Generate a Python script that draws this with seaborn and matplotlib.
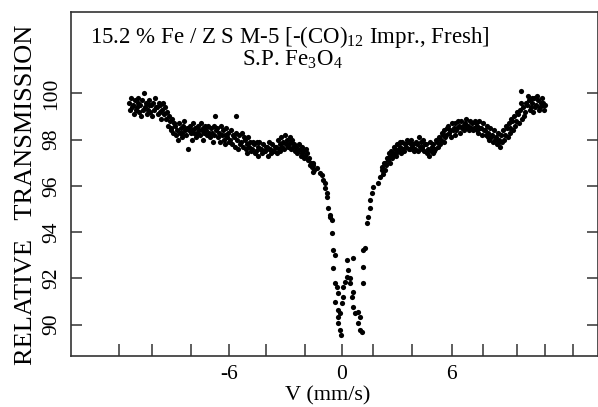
import matplotlib
matplotlib.use("Agg")
import matplotlib.pyplot as plt
import pandas as pd
import seaborn as sns

# Mossbauer spectrum: velocity (mm/s) vs relative transmission (%)
vel_left = [
    -11.60, -11.55, -11.50, -11.45, -11.40, -11.35, -11.30, -11.25, -11.20, -11.15,
    -11.10, -11.05, -11.00, -10.95, -10.90, -10.85, -10.80, -10.75, -10.70, -10.65,
    -10.60, -10.55, -10.50, -10.45, -10.40, -10.35, -10.30, -10.25, -10.20, -10.15,
    -10.10, -10.05, -10.00, -9.95, -9.90, -9.85, -9.80, -9.75, -9.70, -9.65,
    -9.60, -9.55, -9.50, -9.45, -9.40, -9.35, -9.30, -9.25, -9.20, -9.15,
    -9.10, -9.05, -9.00, -8.95, -8.90, -8.85, -8.80, -8.75, -8.70, -8.65,
    -8.60, -8.55, -8.50, -8.45, -8.40, -8.35, -8.30, -8.25, -8.20, -8.15,
    -8.10, -8.05, -8.00, -7.95, -7.90, -7.85, -7.80, -7.75, -7.70, -7.65,
    -7.60, -7.55, -7.50, -7.45, -7.40, -7.35, -7.30, -7.25, -7.20, -7.15,
    -7.10, -7.05, -7.00, -6.95, -6.90, -6.85, -6.80, -6.75, -6.70, -6.65,
    -6.60, -6.55, -6.50, -6.45, -6.40, -6.35, -6.30, -6.25, -6.20, -6.15,
    -6.10, -6.05, -6.00, -5.95, -5.90, -5.85, -5.80, -5.75, -5.70, -5.65,
    -5.60, -5.55, -5.50, -5.45, -5.40, -5.35, -5.30, -5.25, -5.20, -5.15,
    -5.10, -5.05, -5.00, -4.95, -4.90, -4.85, -4.80, -4.75, -4.70, -4.65,
    -4.60, -4.55, -4.50, -4.45, -4.40, -4.35, -4.30, -4.25, -4.20, -4.15,
    -4.10, -4.05, -4.00, -3.95, -3.90, -3.85, -3.80, -3.75, -3.70, -3.65,
    -3.60, -3.55, -3.50, -3.45, -3.40, -3.35, -3.30, -3.25, -3.20, -3.15,
    -3.10, -3.05, -3.00, -2.95, -2.90, -2.85, -2.80, -2.75, -2.70, -2.65,
    -2.60, -2.55, -2.50, -2.45, -2.40, -2.35, -2.30, -2.25, -2.20, -2.15,
    -2.10, -2.05, -2.00, -1.95, -1.90, -1.85, -1.80, -1.75, -1.70, -1.65,
    -1.60, -1.55, -1.50,
]
trans_left = [
    99.6, 99.3, 99.8, 99.4, 99.5, 99.1, 99.7, 99.3, 99.4, 99.6,
    99.8, 99.2, 99.5, 99.0, 99.7, 99.3, 100.0, 99.4, 99.6, 99.1,
    99.3, 99.5, 99.7, 99.2, 99.5, 99.0, 99.6, 99.3, 99.8, 99.4,
    99.4, 99.1, 99.6, 99.2, 99.5, 98.9, 99.3, 99.6, 99.1, 99.4,
    98.9, 99.2, 98.6, 99.0, 98.8, 98.4, 98.5, 98.9, 98.3, 98.7,
    98.6, 98.2, 98.4, 98.0, 98.7, 98.3, 98.5, 98.1, 98.3, 98.6,
    98.8, 98.4, 98.2, 98.5, 97.6, 98.4, 98.6, 98.3, 98.4, 98.0,
    98.7, 98.3, 98.5, 98.1, 98.3, 98.6, 98.4, 98.2, 98.7, 98.4,
    98.5, 98.0, 98.3, 98.6, 98.4, 98.2, 98.6, 98.3, 98.1, 98.5,
    98.3, 97.9, 98.6, 98.2, 99.0, 98.4, 98.5, 98.1, 98.3, 97.9,
    98.6, 98.2, 98.4, 98.0, 98.2, 97.8, 98.5, 98.1, 98.3, 97.9,
    98.0, 98.4, 97.8, 98.2, 98.1, 97.7, 99.0, 98.3, 98.0, 97.6,
    98.2, 97.8, 97.9, 98.3, 97.7, 98.1, 98.0, 97.6, 97.8, 97.4,
    98.1, 97.7, 97.9, 97.5, 97.6, 97.9, 97.8, 97.4, 97.5, 97.9,
    97.7, 97.3, 97.9, 97.6, 97.6, 97.4, 97.8, 97.5, 97.5, 97.7,
    97.7, 97.3, 97.9, 97.6, 97.6, 97.4, 97.8, 97.5, 97.5, 97.7,
    97.7, 97.4, 98.0, 97.6, 97.8, 97.5, 98.1, 97.7, 97.9, 97.6,
    98.2, 97.8, 98.0, 97.7, 97.8, 98.1, 97.6, 97.9, 98.0, 97.7,
    97.8, 97.5, 97.7, 97.4, 97.5, 97.8, 97.6, 97.3, 97.4, 97.7,
    97.5, 97.2, 97.3, 97.6, 97.4, 97.1, 97.2, 96.9, 97.0, 96.8,
    96.9, 96.6, 96.7,
]

# the two absorption lines near 0 and +1 mm/s
vel_dip = [
    -1.58, -1.36, -1.20, -1.09, -1.04, -0.93, -0.93, -0.82, -0.82, -0.76,
    -0.65, -0.65, -0.55, -0.55, -0.49, -0.38, -0.49, -0.38, -0.27, -0.22,
    -0.38, -0.22, -0.11, -0.22, -0.22, -0.11, -0.05,
    0.27, 0.60, 0.33, 0.27, 0.44, 0.16, 0.05, 0.44, 0.60, 0.55,
    0.05, 0.00, 0.60, 0.71, 0.87, 0.98, 0.87, 0.98, 1.09,
    1.15, 1.15, 1.25, 1.15, 1.36, 1.42, 1.53, 1.53, 1.64, 1.69,
    1.96, 2.07, 2.18, 2.35, 2.51, 2.78, 3.00,
]
trans_dip = [
    96.97, 96.77, 96.56, 96.47, 96.25, 96.13, 95.91, 95.69, 95.52, 95.04,
    94.74, 94.65, 94.52, 93.96, 93.23, 93.01, 92.45, 91.80, 91.62, 91.37,
    90.98, 90.63, 90.50, 90.33, 90.07, 89.76, 89.55,
    92.79, 92.88, 92.36, 92.06, 92.01, 91.84, 91.62, 91.80, 91.41, 91.19,
    91.19, 90.93, 90.76, 90.50, 90.54, 90.33, 90.07, 89.76, 89.68,
    91.80, 92.49, 93.31, 93.23, 94.39, 94.65, 95.04, 95.39, 95.69, 95.95,
    96.13, 96.38, 96.69, 96.99, 97.21, 97.34, 97.47,
]

vel_right = [
    2.20, 2.25, 2.30, 2.35, 2.40, 2.45, 2.50, 2.55, 2.60, 2.65,
    2.70, 2.75, 2.80, 2.85, 2.90, 2.95, 3.00, 3.05, 3.10, 3.15,
    3.20, 3.25, 3.30, 3.35, 3.40, 3.45, 3.50, 3.55, 3.60, 3.65,
    3.70, 3.75, 3.80, 3.85, 3.90, 3.95, 4.00, 4.05, 4.10, 4.15,
    4.20, 4.25, 4.30, 4.35, 4.40, 4.45, 4.50, 4.55, 4.60, 4.65,
    4.70, 4.75, 4.80, 4.85, 4.90, 4.95, 5.00, 5.05, 5.10, 5.15,
    5.20, 5.25, 5.30, 5.35, 5.40, 5.45, 5.50, 5.55, 5.60, 5.65,
    5.70, 5.75, 5.80, 5.85, 5.90, 5.95, 6.00, 6.05, 6.10, 6.15,
    6.20, 6.25, 6.30, 6.35, 6.40, 6.45, 6.50, 6.55, 6.60, 6.65,
    6.70, 6.75, 6.80, 6.85, 6.90, 6.95, 7.00, 7.05, 7.10, 7.15,
    7.20, 7.25, 7.30, 7.35, 7.40, 7.45, 7.50, 7.55, 7.60, 7.65,
    7.70, 7.75, 7.80, 7.85, 7.90, 7.95, 8.00, 8.05, 8.10, 8.15,
    8.20, 8.25, 8.30, 8.35, 8.40, 8.45, 8.50, 8.55, 8.60, 8.65,
    8.70, 8.75, 8.80, 8.85, 8.90, 8.95, 9.00, 9.05, 9.10, 9.15,
    9.20, 9.25, 9.30, 9.35, 9.40, 9.45, 9.50, 9.55, 9.60, 9.65,
    9.70, 9.75, 9.80, 9.85, 9.90, 9.95, 10.00, 10.05, 10.10, 10.15,
    10.20, 10.25, 10.30, 10.35, 10.40, 10.45, 10.50, 10.55, 10.60, 10.65,
    10.70, 10.75, 10.80, 10.85, 10.90, 10.95, 11.00, 11.05, 11.10,
]
trans_right = [
    96.8, 96.5, 97.0, 96.7, 96.9, 97.2, 97.1, 97.4, 97.3, 97.0,
    97.5, 97.2, 97.4, 97.7, 97.6, 97.3, 97.8, 97.5, 97.6, 97.9,
    97.7, 97.4, 97.9, 97.6, 97.5, 97.8, 97.7, 98.0, 97.9, 97.6,
    97.6, 97.8, 98.0, 97.7, 97.8, 97.5, 97.6, 97.9, 97.8, 97.5,
    98.1, 97.7, 97.9, 97.6, 97.7, 98.0, 97.5, 97.8, 97.8, 97.4,
    97.6, 97.3, 97.9, 97.5, 97.7, 97.4, 97.8, 97.5, 97.6, 98.0,
    97.9, 97.7, 98.1, 97.8, 98.0, 98.3, 98.2, 97.9, 98.4, 98.1,
    98.2, 98.5, 98.6, 98.3, 98.4, 98.1, 98.7, 98.4, 98.5, 98.2,
    98.7, 98.4, 98.5, 98.8, 98.6, 98.3, 98.8, 98.5, 98.6, 98.4,
    98.7, 98.5, 98.9, 98.6, 98.6, 98.4, 98.8, 98.5, 98.7, 98.4,
    98.5, 98.8, 98.7, 98.4, 98.6, 98.3, 98.8, 98.5, 98.5, 98.2,
    98.7, 98.4, 98.4, 98.2, 98.6, 98.1, 98.3, 98.0, 98.5, 98.1,
    98.2, 97.9, 98.4, 98.0, 98.1, 97.8, 98.3, 97.9, 98.0, 97.7,
    98.2, 97.9, 98.4, 98.0, 98.2, 98.6, 98.5, 98.1, 98.7, 98.3,
    98.5, 98.9, 98.8, 98.4, 99.0, 98.6, 98.8, 99.2, 99.1, 98.7,
    99.3, 100.1, 99.6, 98.9, 99.4, 99.0, 99.2, 99.6, 99.5, 99.9,
    99.7, 99.3, 99.4, 99.8, 99.6, 99.2, 99.8, 99.4, 99.5, 99.9,
    99.7, 99.3, 99.4, 99.6, 99.8, 99.5, 99.6, 99.3, 99.5,
]

# hand drawn axis: tick marks are not evenly spaced
x_tick_pos = [-12.17, -10.37, -8.24, -6.16, -4.15, -2.02, 0.0, 1.69, 3.82, 6.0, 7.69, 9.55, 11.08, 12.6]
x_tick_labels = ["", "", "", "-6", "", "", "0", "", "", "6", "", "", "", ""]
y_ticks = [90, 92, 94, 96, 98, 100]
y_tick_labels = ["90", "92", "94", "96", "98", "100"]

sns.set_style("white")
plt.rcParams["font.family"] = ["Liberation Serif", "DejaVu Serif"]
plt.rcParams["mathtext.fontset"] = "custom"
plt.rcParams["mathtext.rm"] = "Liberation Serif"
plt.rcParams["text.color"] = "black"
plt.rcParams["axes.labelcolor"] = "black"
plt.rcParams["xtick.labelcolor"] = "black"
plt.rcParams["ytick.labelcolor"] = "black"

df = pd.DataFrame({"velocity": vel_left + vel_dip + vel_right,
                   "transmission": trans_left + trans_dip + trans_right})

fig = plt.figure(figsize=(5.98, 4.07), dpi=100)
ax = fig.add_axes([71 / 598, 51 / 407, 526.5 / 598, 344 / 407])
sns.scatterplot(data=df, x="velocity", y="transmission", ax=ax, color="black",
                s=14, linewidth=0, legend=False)

ax.set_xlim(-14.78, 13.95)
ax.set_ylim(88.64, 103.52)

for side in ["left", "right", "top", "bottom"]:
    ax.spines[side].set_visible(True)
    ax.spines[side].set_color("#333333")
    ax.spines[side].set_linewidth(1.2)

ax.set_xticks(x_tick_pos, x_tick_labels)
ax.set_yticks(y_ticks, y_tick_labels, rotation=90, va="center")
ax.tick_params(axis="x", direction="in", length=9, width=1.1, color="#333333",
               bottom=True, top=False, pad=6.5, labelsize=15.5, labelcolor="black")
ax.tick_params(axis="y", direction="in", length=8, width=1.1, color="#333333",
               left=True, right=True, labelleft=True, labelright=False,
               pad=7.3, labelsize=15.5, labelcolor="black")

ax.set_xlabel("V (mm/s)", fontsize=16)
ax.xaxis.set_label_coords(0.488, -0.087)
ax.set_ylabel("RELATIVE   TRANSMISSION", fontsize=19)
ax.yaxis.set_label_coords(-0.0655, 0.4695)

ax.text(0.036, 0.910, "15.2 % Fe / Z S M-5 [-(CO)$_{\\mathrm{12}}$ Impr., Fresh]",
        transform=ax.transAxes, fontsize=16.5, va="baseline")
ax.text(0.3245, 0.846, "S.P. Fe$_{\\mathrm{3}}$O$_{\\mathrm{4}}$",
        transform=ax.transAxes, fontsize=16.5, va="baseline")

fig.savefig("out.png", dpi=100, facecolor="white")
